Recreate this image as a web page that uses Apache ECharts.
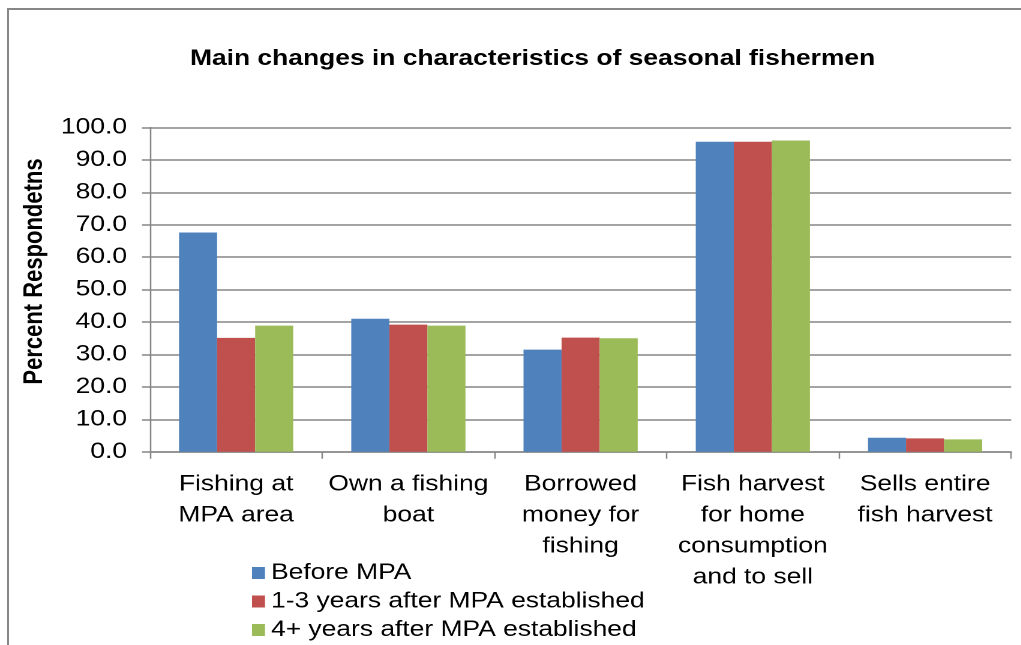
<!DOCTYPE html>
<html>
<head>
<meta charset="utf-8">
<script src="https://cdn.jsdelivr.net/npm/echarts@6/dist/echarts.min.js"></script>
<style>
html,body{margin:0;padding:0;background:#fff;overflow:hidden;width:1021px;height:645px;}
#frame{position:absolute;left:7px;top:8px;width:1100px;height:700px;border-left:2px solid #878787;border-top:2px solid #878787;}
#chart{position:absolute;left:0;top:0;height:645px;transform-origin:0 0;}
</style>
</head>
<body>
<div id="frame"></div>
<div id="chart"></div>
<script>
const categories = ["Fishing at\nMPA area", "Own a fishing\nboat", "Borrowed\nmoney for\nfishing", "Fish harvest\nfor home\nconsumption\nand to sell", "Sells entire\nfish harvest"];
const seriesNames = ["Before MPA", "1-3 years after MPA established", "4+ years after MPA established"];
const beforeMPA = [67.6, 41.0, 31.5, 95.6, 4.3];
const after1to3 = [35.1, 39.2, 35.2, 95.6, 4.1];
const after4plus = [38.9, 38.9, 35.0, 96.0, 3.8];
const colors = ["#4F81BD", "#C0504D", "#9BBB59"];
const values = [beforeMPA, after1to3, after4plus];

// The reference image is horizontally stretched; reproduce by drawing narrower and stretching.
const S = 1.2;
const el = document.getElementById('chart');
el.style.width = (1021 / S) + 'px';
el.style.transform = 'scaleX(' + S + ')';
const X = v => v / S;

const chart = echarts.init(el, null, {renderer: 'canvas', devicePixelRatio: 2});
const font = 'Arial, "Liberation Sans", sans-serif';
const grey = '#868686';
chart.setOption({
  animation: false,
  backgroundColor: 'transparent',
  title: {
    text: 'Main changes in characteristics of seasonal fishermen',
    left: X(184), top: 43,
    textStyle: {fontFamily: font, fontSize: 22, fontWeight: 'bold', color: '#000'}
  },
  graphic: [{
    type: 'text', x: X(35), y: 271.5, rotation: Math.PI / 2,
    style: {text: 'Percent Respondetns', font: 'bold 22px ' + font, fill: '#000', align: 'center', verticalAlign: 'middle'}
  }],
  legend: {
    orient: 'vertical', left: X(252), top: 562, height: 120, padding: 0,
    itemWidth: X(13), itemHeight: 12, itemGap: 6.5,
    icon: 'rect',
    textStyle: {fontFamily: font, fontSize: 22, color: '#000', padding: [0, 0, 0, 0]},
    data: seriesNames
  },
  grid: {left: X(150), right: X(10), top: 127.5, bottom: 193.3, containLabel: false},
  xAxis: {
    type: 'category', data: categories,
    axisLine: {lineStyle: {color: grey, width: 1.5}},
    axisTick: {show: true, length: 7, lineStyle: {color: grey, width: 1.25}},
    axisLabel: {interval: 0, fontFamily: font, fontSize: 22, color: '#000', lineHeight: 31, margin: 17}
  },
  yAxis: {
    type: 'value', min: 0, max: 100, interval: 10,
    axisLine: {show: true, lineStyle: {color: grey, width: 1.25}},
    axisTick: {show: true, length: X(8), lineStyle: {color: grey, width: 1.5}},
    splitLine: {lineStyle: {color: grey, width: 1.5}},
    axisLabel: {fontFamily: font, fontSize: 22, color: '#000', margin: X(23), formatter: v => v.toFixed(1)}
  },
  series: seriesNames.map((n, i) => ({
    name: n, type: 'bar', data: values[i],
    barGap: '0%', barCategoryGap: '33.7%',
    itemStyle: {color: colors[i]}
  }))
});
</script>
</body>
</html>
